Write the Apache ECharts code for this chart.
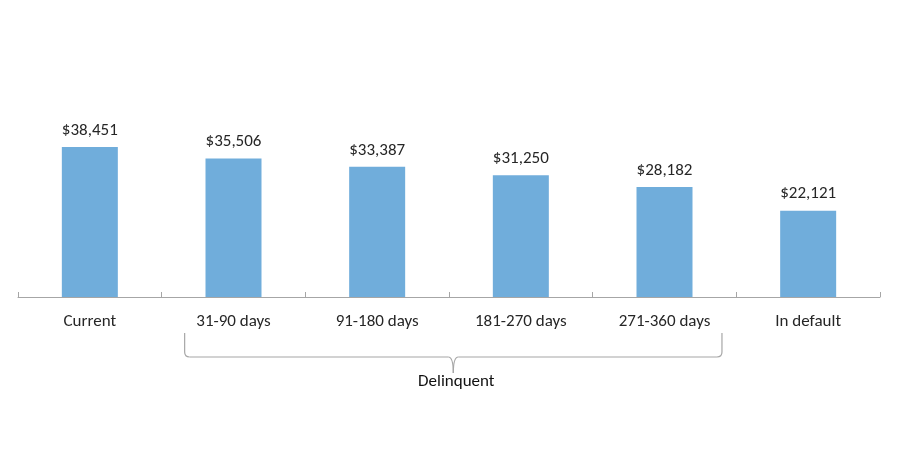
<!DOCTYPE html>
<html>
<head>
<meta charset="utf-8">
<script src="https://cdn.jsdelivr.net/npm/echarts@6/dist/echarts.min.js"></script>
<style>
  html, body { margin: 0; padding: 0; background: #fff; }
  #chart { width: 900px; height: 450px; }
</style>
</head>
<body>
<div id="chart"></div>
<script>
// categories and values
var categories = ['Current', '31-90 days', '91-180 days', '181-270 days', '271-360 days', 'In default']
var balances = [38451, 35506, 33387, 31250, 28182, 22121]
// bracket groups categories 1..4 under one label
var groupLabel = 'Delinquent'
var groupFrom = 1
var groupTo = 4

var font = 'Carlito, Calibri, Lato, "Open Sans", sans-serif'

var chart = echarts.init(document.getElementById('chart'))

function money (v) {
  return '$' + v.toString().replace(/\B(?=(\d{3})+(?!\d))/g, ',')
}

var option = {
  animation: false,
  grid: {
    left: 18,
    right: 20,
    top: 141,
    bottom: 153
  },
  xAxis: {
    type: 'category',
    data: categories,
    axisLine: { lineStyle: { color: '#a6a6a6', width: 1 } },
    axisTick: { show: true, inside: true, length: 5, lineStyle: { color: '#a6a6a6', width: 1 } },
    axisLabel: {
      color: '#262626',
      fontFamily: font,
      fontSize: 17,
      margin: 16
    }
  },
  yAxis: {
    type: 'value',
    min: 0,
    max: 40000,
    show: false,
    splitLine: { show: false }
  },
  series: [{
    type: 'bar',
    data: balances,
    barWidth: 56,
    itemStyle: { color: '#70addb' },
    label: {
      show: true,
      position: 'top',
      distance: 8,
      color: '#262626',
      fontFamily: font,
      fontSize: 17,
      formatter: function (p) { return money(p.value) }
    }
  }]
}
chart.setOption(option)

// curly bracket below the delinquent categories, placed from the axis scale
function drawBracket () {
  var x0 = chart.convertToPixel({ xAxisIndex: 0 }, groupFrom)
  var x1 = chart.convertToPixel({ xAxisIndex: 0 }, groupTo)
  var x2 = chart.convertToPixel({ xAxisIndex: 0 }, groupFrom + 1)
  var band = x2 - x0
  var left = x0 - band * 0.34
  var right = x1 + band * 0.4
  var mid = (left + right) / 2
  var top = 333
  var y = 357
  var tip = 373
  var r = 5
  var stroke = { stroke: '#a6a6a6', lineWidth: 1.2, fill: null }
  var curve = function (a, b, c, d, cx, cy) {
    return { type: 'bezierCurve', shape: { x1: a, y1: b, x2: c, y2: d, cpx1: cx, cpy1: cy }, style: stroke }
  }
  var line = function (a, b, c, d) {
    return { type: 'line', shape: { x1: a, y1: b, x2: c, y2: d }, style: stroke }
  }
  chart.setOption({
    graphic: [
      line(left, top, left, y - r),
      curve(left, y - r, left + r, y, left, y),
      line(left + r, y, mid - r, y),
      curve(mid - r, y, mid, tip, mid, y),
      curve(mid, tip, mid + r, y, mid, y),
      line(mid + r, y, right - r, y),
      curve(right - r, y, right, y - r, right, y),
      line(right, y - r, right, top),
      {
        type: 'text',
        x: mid + 3,
        y: 382,
        style: {
          text: groupLabel,
          fill: '#111',
          font: '17px ' + font,
          textAlign: 'center',
          textVerticalAlign: 'middle'
        }
      }
    ]
  })
}
drawBracket()
</script>
</body>
</html>
